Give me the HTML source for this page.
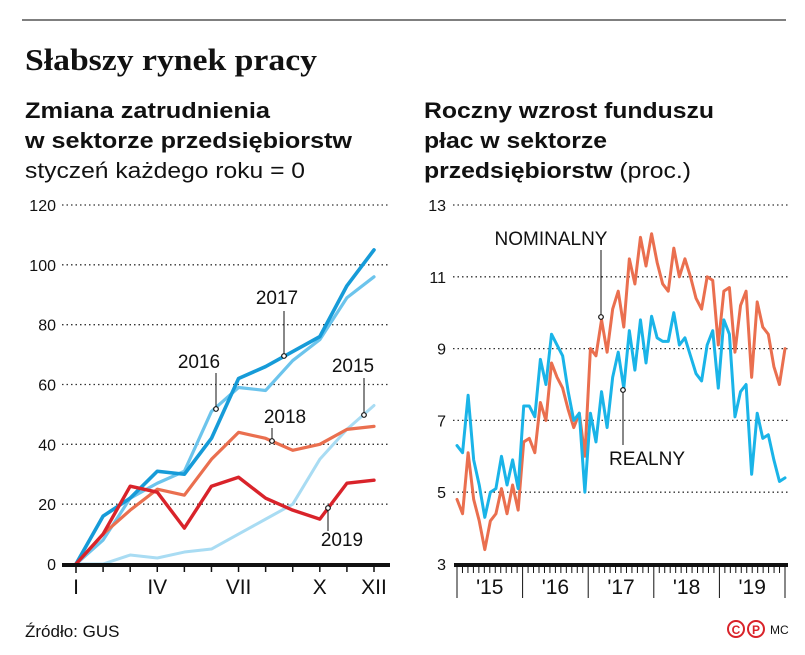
<!DOCTYPE html>
<html><head><meta charset="utf-8">
<style>
html,body{margin:0;padding:0;background:#fff;}
svg{display:block;font-family:"Liberation Sans",sans-serif;}
</style></head>
<body>
<svg id="root" width="805" height="655" viewBox="0 0 805 655" xmlns="http://www.w3.org/2000/svg">
<line x1="22" y1="20" x2="786" y2="20" stroke="#555" stroke-width="1.5"/>
<text x="25" y="70" font-family="Liberation Serif,serif" font-weight="bold" font-size="31" textLength="292" lengthAdjust="spacingAndGlyphs" fill="#111">Słabszy rynek pracy</text>

<g fill="#111">
<text x="25" y="118" font-weight="bold" font-size="22" textLength="245" lengthAdjust="spacingAndGlyphs">Zmiana zatrudnienia</text>
<text x="25" y="148" font-weight="bold" font-size="22" textLength="327" lengthAdjust="spacingAndGlyphs">w sektorze przedsiębiorstw</text>
<text x="25" y="178" font-size="22" textLength="280" lengthAdjust="spacingAndGlyphs">styczeń każdego roku = 0</text>
</g>
<g fill="#111">
<text x="424" y="118" font-weight="bold" font-size="22" textLength="290" lengthAdjust="spacingAndGlyphs">Roczny wzrost funduszu</text>
<text x="424" y="148" font-weight="bold" font-size="22" textLength="183" lengthAdjust="spacingAndGlyphs">płac w sektorze</text>
<text x="424" y="178" font-size="22" textLength="267" lengthAdjust="spacingAndGlyphs"><tspan font-weight="bold">przedsiębiorstw</tspan> (proc.)</text>
</g>

<g id="left"></g>
<g id="right"></g>

<text x="25" y="637" font-size="17" fill="#111">Źródło: GUS</text>
<g fill="none" stroke="#d9232a" stroke-width="2">
<circle cx="736" cy="629" r="8"/><circle cx="756" cy="629" r="8"/>
<text x="736" y="634" font-size="12" font-weight="bold" text-anchor="middle" fill="#d9232a" stroke="none">C</text>
<text x="756" y="634" font-size="12" font-weight="bold" text-anchor="middle" fill="#d9232a" stroke="none">P</text>
</g>
<text x="770" y="634" font-size="12" fill="#111">MC</text>
</svg>
<script>
const NS="http://www.w3.org/2000/svg";
// ---- left chart data ----
const months=["I","II","III","IV","V","VI","VII","VIII","IX","X","XI","XII"];
const monthLabels=["I","","","IV","","","VII","","","X","","XII"];
const leftTicks=[0,20,40,60,80,100,120];
const y2015=[0,0,3,2,4,5,10,15,20,35,45,53];
const y2016=[0,8,22,27,31,51,59,58,68,75,89,96];
const y2017=[0,16,22,31,30,42,62,66,71,76,93,105];
const y2018=[0,10,18,25,23,35,44,42,38,40,45,46];
const y2019=[0,10,26,24,12,26,29,22,18,15,27,28];
// ---- right chart data ----
const yearLabels=["'15","'16","'17","'18","'19"];
const rightTicks=[3,5,7,9,11,13];
const nominal=[4.8,4.4,6.1,4.8,4.2,3.4,4.2,4.4,5.1,4.4,5.2,4.5,6.4,6.5,6.1,7.5,7.0,8.6,8.2,7.9,7.3,6.8,7.2,6.0,9.0,8.8,9.8,8.9,10.1,10.6,9.6,11.5,10.8,12.1,11.3,12.2,11.4,10.8,10.6,11.8,11.0,11.5,11.0,10.4,10.1,11.0,10.9,9.1,10.6,10.7,8.9,10.2,10.6,8.2,10.3,9.6,9.4,8.5,8.0,9.0];
const real=[6.3,6.1,7.7,5.9,5.2,4.3,5.0,5.1,6.0,5.2,5.9,5.1,7.4,7.4,7.1,8.7,8.0,9.4,9.1,8.8,7.8,7.0,7.2,5.0,7.2,6.4,7.8,6.8,8.2,8.9,7.9,9.5,8.4,9.8,8.6,9.9,9.3,9.2,9.2,10.0,9.1,9.3,8.8,8.3,8.1,9.1,9.5,7.9,9.8,9.4,7.1,7.8,8.0,5.5,7.2,6.5,6.6,5.9,5.3,5.4];

function mk(parent,tag,attrs,text){const e=document.createElementNS(NS,tag);for(const k in attrs)e.setAttribute(k,attrs[k]);if(text!==undefined)e.textContent=text;parent.appendChild(e);return e;}

// left axes
const L=document.getElementById('left');
const lx=i=>76+i*(374-76)/11;
const ly=v=>564-v*(564-205)/120;
leftTicks.forEach(t=>{
  if(t>0){const g=mk(L,'line',{x1:62,x2:390,y1:ly(t),y2:ly(t),stroke:'#333','stroke-width':1.3,'stroke-dasharray':'1.5 3'});
  }
  const tx=mk(L,'text',{x:56,y:ly(t)+6,'font-size':16,'text-anchor':'end',fill:'#111'},String(t));
  
});
function line(parent,vals,xf,yf,color,w,name){
  const p=mk(parent,'polyline',{points:vals.map((v,i)=>xf(i)+','+yf(v)).join(' '),fill:'none',stroke:color,'stroke-width':w,'stroke-linejoin':'round','stroke-linecap':'round'});
  return p;
}
line(L,y2015,lx,ly,'#a9dcf3',3,'line-2015');
line(L,y2016,lx,ly,'#6cc4ec',3.2,'line-2016');
line(L,y2018,lx,ly,'#ea6f4f',3.2,'line-2018');
line(L,y2017,lx,ly,'#169bd8',3.6,'line-2017');
line(L,y2019,lx,ly,'#d9232a',3.4,'line-2019');
const ax=mk(L,'line',{x1:62,x2:390,y1:565,y2:565,stroke:'#111','stroke-width':4});

months.forEach((m,i)=>{
  const t=mk(L,'line',{x1:lx(i),x2:lx(i),y1:565,y2:monthLabels[i]&&i===0?573:572,stroke:'#111','stroke-width':1.5});
  
  if(monthLabels[i]){const tx=mk(L,'text',{x:lx(i),y:594,'font-size':21,'text-anchor':'middle',fill:'#111'},monthLabels[i]);
  }
});
function ann(parent,label,lxp,lyp,x1,y1,x2,y2,name){
  const g=mk(parent,'g',{});
  mk(g,'text',{x:lxp,y:lyp,'font-size':19,'text-anchor':'middle',fill:'#111'},label);
  mk(g,'line',{x1:x1,y1:y1,x2:x2,y2:y2,stroke:'#111','stroke-width':1});
  mk(g,'circle',{cx:x2,cy:y2,r:2.3,fill:'#fff',stroke:'#111','stroke-width':1.2});
}
ann(L,'2017',277,304,284,311,284,356,'label-2017');
ann(L,'2016',199,368,216,373,216,409,'label-2016');
ann(L,'2015',353,372,364,378,364,415,'label-2015');
ann(L,'2018',285,423,272,428,272,441,'label-2018');
ann(L,'2019',342,546,328,531,328,508,'label-2019');

// right chart
const R=document.getElementById('right');
const rx=i=>457+i*(785-457)/59;
const ry=v=>564-(v-3)*(564-205)/10;
rightTicks.forEach(t=>{
  if(t>3){const g=mk(R,'line',{x1:453,x2:788,y1:ry(t),y2:ry(t),stroke:'#333','stroke-width':1.3,'stroke-dasharray':'1.5 3'});
  }
  const tx=mk(R,'text',{x:446,y:ry(t)+6,'font-size':16,'text-anchor':'end',fill:'#111'},String(t));
  
});
line(R,nominal,rx,ry,'#ea6f4f',3,'nominal-line');
line(R,real,rx,ry,'#1ab4e8',3,'real-line');
const ax2=mk(R,'line',{x1:454,x2:788,y1:565,y2:565,stroke:'#111','stroke-width':4});

for(let i=0;i<=60;i++){
  const x=457+i*(785-457)/60;const yr=i%12===0;
  const t=mk(R,'line',{x1:x,x2:x,y1:565,y2:yr?598:573,stroke:'#111','stroke-width':1});
  
}
yearLabels.forEach((y,k)=>{
  const x=457+(k*12+6)*(785-457)/60;
  const tx=mk(R,'text',{x:x,y:594,'font-size':21,'text-anchor':'middle',fill:'#111'},y);
  
});
ann(R,'NOMINALNY',551,245,601,250,601,317,'nominal-label');
ann(R,'REALNY',647,465,623,445,623,390,'real-label');
</script>
</body></html>
